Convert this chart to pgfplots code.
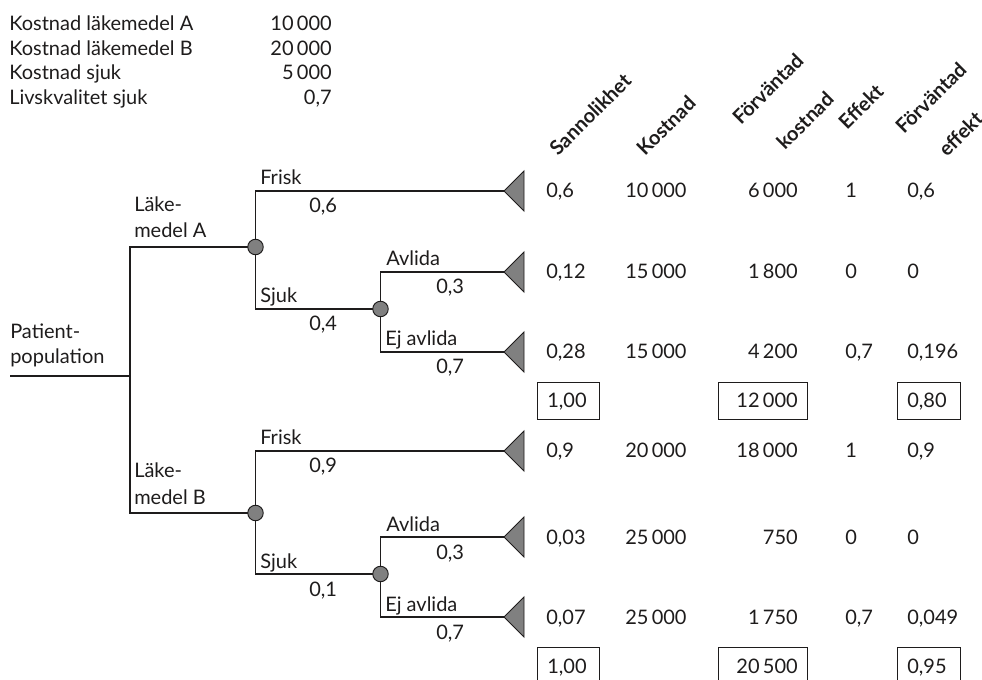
\documentclass[border=0pt]{standalone}
\usepackage{fontspec}
\setmainfont{Lato}
\usepackage{pgfplots}
\pgfplotsset{compat=1.18}
\definecolor{tgray}{RGB}{128,128,128}
\definecolor{ink}{RGB}{30,28,28}
\newcommand{\tw}[3]{\node[anchor=base west,inner sep=0pt] at (axis cs:#1,#2) {#3};}
\newcommand{\te}[3]{\node[anchor=base east,inner sep=0pt] at (axis cs:#1,#2) {#3};}
\newcommand{\hw}[3]{\node[anchor=base west,inner sep=0pt,rotate=45,font=\fontsize{15}{18}\selectfont\bfseries] at (axis cs:#1,#2) {#3};}
\begin{document}
\begin{tikzpicture}[font=\fontsize{15}{18}\selectfont,text=ink]
\begin{axis}[width=736.5pt,height=510pt,scale only axis,
  xmin=0,xmax=982,ymin=0,ymax=680,y dir=reverse,hide axis,clip=false]
% tree lines
\addplot[ink,line width=1pt] coordinates {(10,376) (130,376)};
\addplot[ink,line width=1pt] coordinates {(255.5,247) (130,247) (130,513) (255.5,513)};
\addplot[ink,line width=1pt] coordinates {(504,191) (255.5,191) (255.5,309) (380.5,309)};
\addplot[ink,line width=1pt] coordinates {(504,272) (380.5,272) (380.5,352) (504,352)};
\addplot[ink,line width=1pt] coordinates {(504,451) (255.5,451) (255.5,574) (380.5,574)};
\addplot[ink,line width=1pt] coordinates {(504,537) (380.5,537) (380.5,617) (504,617)};
% chance nodes
\addplot[only marks,mark=*,mark size=5.8pt,mark options={fill=tgray,draw=ink,line width=0.7pt}]
  coordinates {(255.5,247) (380.5,309) (255.5,513) (380.5,574)};
% terminal triangles
\addplot[draw=ink,fill=tgray,line width=0.7pt] coordinates {(504,191) (524,171) (524,211)} -- cycle;
\addplot[draw=ink,fill=tgray,line width=0.7pt] coordinates {(504,272) (524,252) (524,292)} -- cycle;
\addplot[draw=ink,fill=tgray,line width=0.7pt] coordinates {(504,352) (524,332) (524,372)} -- cycle;
\addplot[draw=ink,fill=tgray,line width=0.7pt] coordinates {(504,451) (524,431) (524,471)} -- cycle;
\addplot[draw=ink,fill=tgray,line width=0.7pt] coordinates {(504,537) (524,517) (524,557)} -- cycle;
\addplot[draw=ink,fill=tgray,line width=0.7pt] coordinates {(504,617) (524,597) (524,637)} -- cycle;
% total boxes
\addplot[draw=ink,line width=0.7pt] coordinates {(537,382) (599,382) (599,419) (537,419)} -- cycle;
\addplot[draw=ink,line width=0.7pt] coordinates {(718,382) (807,382) (807,419) (718,419)} -- cycle;
\addplot[draw=ink,line width=0.7pt] coordinates {(897,382) (960,382) (960,419) (897,419)} -- cycle;
\addplot[draw=ink,line width=0.7pt] coordinates {(537,647) (599,647) (599,684) (537,684)} -- cycle;
\addplot[draw=ink,line width=0.7pt] coordinates {(718,647) (807,647) (807,684) (718,684)} -- cycle;
\addplot[draw=ink,line width=0.7pt] coordinates {(897,647) (960,647) (960,684) (897,684)} -- cycle;
% parameter table
\tw{9}{31}{Kostnad läkemedel A} \te{332}{31}{10\,000}
\tw{9}{56}{Kostnad läkemedel B} \te{332}{56}{20\,000}
\tw{9}{80}{Kostnad sjuk}        \te{332}{80}{5\,000}
\tw{9}{105}{Livskvalitet sjuk}  \te{332}{105}{0,7}
% headers
\hw{558}{157}{Sannolikhet}
\hw{645}{157}{Kostnad}
\hw{741}{126}{Förväntad}
\hw{785}{151}{kostnad}
\hw{847}{131}{Effekt}
\hw{904}{135}{Förväntad}
\hw{947}{158}{effekt}
% tree labels
\tw{10}{339}{Patient-} \tw{10}{364}{population}
\tw{134}{212}{Läke-} \tw{134}{238}{medel A}
\tw{260}{185}{Frisk} \tw{309}{213}{0,6}
\tw{260}{303}{Sjuk}  \tw{309}{331}{0,4}
\tw{386}{266}{Avlida} \tw{436}{294}{0,3}
\tw{385}{346}{Ej avlida} \tw{436}{374}{0,7}
\tw{134}{478}{Läke-} \tw{134}{504}{medel B}
\tw{260}{445}{Frisk} \tw{309}{473}{0,9}
\tw{260}{568}{Sjuk}  \tw{309}{596}{0,1}
\tw{386}{531}{Avlida} \tw{436}{559}{0,3}
\tw{385}{611}{Ej avlida} \tw{436}{639}{0,7}
% result columns
\tw{546}{198}{0,6}  \tw{625}{198}{10\,000} \te{798}{198}{6\,000}  \tw{845}{198}{1}   \tw{907}{198}{0,6}
\tw{546}{279}{0,12} \tw{625}{279}{15\,000} \te{798}{279}{1\,800}  \tw{845}{279}{0}   \tw{907}{279}{0}
\tw{546}{359}{0,28} \tw{625}{359}{15\,000} \te{798}{359}{4\,200}  \tw{845}{359}{0,7} \tw{907}{359}{0,196}
\tw{547}{408}{1,00} \te{798}{408}{12\,000} \tw{907}{408}{0,80}
\tw{546}{458}{0,9}  \tw{625}{458}{20\,000} \te{798}{458}{18\,000} \tw{845}{458}{1}   \tw{907}{458}{0,9}
\tw{546}{544}{0,03} \tw{625}{544}{25\,000} \te{798}{544}{750}     \tw{845}{544}{0}   \tw{907}{544}{0}
\tw{546}{624}{0,07} \tw{625}{624}{25\,000} \te{798}{624}{1\,750}  \tw{845}{624}{0,7} \tw{907}{624}{0,049}
\tw{547}{673}{1,00} \te{798}{673}{20\,500} \tw{907}{673}{0,95}
\end{axis}
\pgfresetboundingbox
\path[use as bounding box] (0,0) rectangle (736.5pt,510pt);
\end{tikzpicture}
\end{document}
